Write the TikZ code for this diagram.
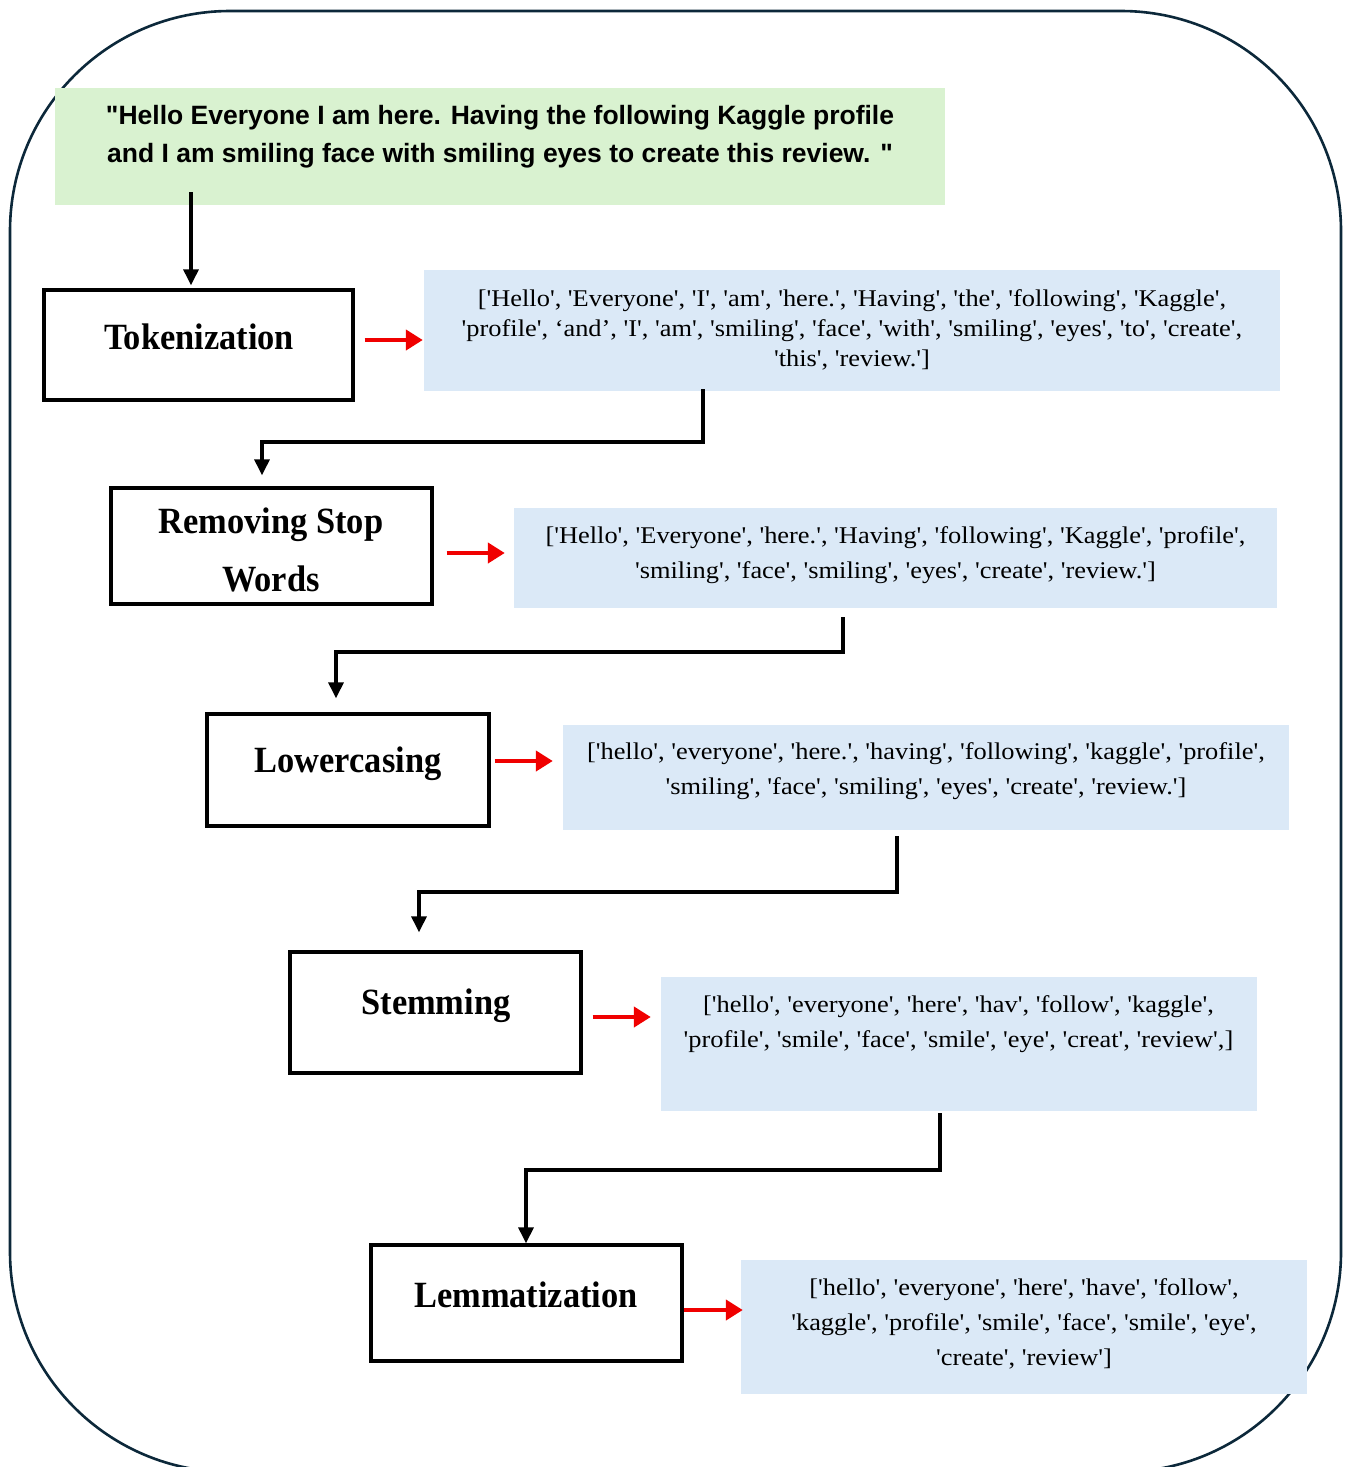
\documentclass[tikz,border=0pt]{standalone}
\usepackage{fontspec}
\usetikzlibrary{arrows.meta,calc}
\newfontfamily\hdrfont[Ligatures=TeXOff]{Liberation Sans}
\newfontfamily\listfont[Ligatures=TeXOff,FakeStretch=1.1]{Liberation Serif}
\newfontfamily\lblfont[Ligatures=TeXOff,FakeStretch=0.93]{Liberation Serif}
\definecolor{framecol}{RGB}{12,40,58}
\definecolor{hdrgreen}{RGB}{217,242,208}
\definecolor{listblue}{RGB}{219,233,247}
\definecolor{arrred}{RGB}{240,0,0}
\begin{document}
\begin{tikzpicture}[x=1pt,y=-1pt,
  stepbox/.style={draw=black,line width=3.3pt,inner sep=0pt,rectangle},
  listbox/.style={fill=listblue,draw=none,inner sep=0pt,rectangle},
  lbl/.style={inner sep=0pt,align=center,font=\lblfont\bfseries\fontsize{37}{58}\selectfont},
  listtxt/.style={inner sep=0pt,align=center,font=\listfont\fontsize{24}{35}\selectfont},
  redarr/.style={draw=arrred,line width=4.2pt,-{Triangle[width=20pt,length=17pt]}},
  blkarr/.style={draw=black,line width=3.2pt,-{Triangle[width=15pt,length=16pt]}},
  blkline/.style={draw=black,line width=3pt}]
\useasboundingbox (0,0) rectangle (1351,1467);
\fill[white] (0,0) rectangle (1351,1467);
% outer frame
\draw[framecol,line width=2.6pt,rounded corners=220pt] (10,11) rectangle (1341,1472);
% header
\node[fill=hdrgreen,inner sep=0pt,minimum width=890pt,minimum height=117pt] (hdr) at (500,146.5) {};
\node[inner sep=0pt,align=center,font=\hdrfont\bfseries\fontsize{26.5}{38}\selectfont] (hdrT) at (500,136.5)
  {"Hello Everyone I am here. Having the following Kaggle profile\\and I am smiling face with smiling eyes to create this review. "};
% step boxes
\node[stepbox,minimum width=309pt,minimum height=110pt] (tok) at (198.5,345) {};
\node[lbl] (tokT) at (199,337) {Tokenization};
\node[stepbox,minimum width=321pt,minimum height=116pt] (stop) at (271.5,546) {};
\node[lbl] (stopT) at (271,550) {Removing Stop\\Words};
\node[stepbox,minimum width=282pt,minimum height=112pt] (lowc) at (348,770) {};
\node[lbl] (lowcT) at (348,764) {Lowercasing};
\node[stepbox,minimum width=291pt,minimum height=121pt] (stem) at (435.5,1012.5) {};
\node[lbl] (stemT) at (436,1006) {Stemming};
\node[stepbox,minimum width=311pt,minimum height=116pt] (lemm) at (526.5,1303) {};
\node[lbl] (lemmT) at (526,1295) {Lemmatization};
% list boxes
\node[listbox,minimum width=856pt,minimum height=121pt] (tokL) at (852,330.5) {};
\node[listtxt,font=\listfont\fontsize{24}{30}\selectfont] (tokLT) at (852,329.5)
  {['Hello', 'Everyone', 'I', 'am', 'here.', 'Having', 'the', 'following', 'Kaggle',\\'profile', ‘and’, 'I', 'am', 'smiling', 'face', 'with', 'smiling', 'eyes', 'to', 'create',\\'this', 'review.']};
\node[listbox,minimum width=763pt,minimum height=100pt] (stopL) at (895.5,558) {};
\node[listtxt] (stopLT) at (895.5,555.5)
  {['Hello', 'Everyone', 'here.', 'Having', 'following', 'Kaggle', 'profile',\\'smiling', 'face', 'smiling', 'eyes', 'create', 'review.']};
\node[listbox,minimum width=726pt,minimum height=105pt] (lowL) at (926,777.5) {};
\node[listtxt] (lowLT) at (926,771.5)
  {['hello', 'everyone', 'here.', 'having', 'following', 'kaggle', 'profile',\\'smiling', 'face', 'smiling', 'eyes', 'create', 'review.']};
\node[listbox,minimum width=596pt,minimum height=134pt] (stemL) at (959,1044) {};
\node[listtxt] (stemLT) at (958.5,1024)
  {['hello', 'everyone', 'here', 'hav', 'follow', 'kaggle',\\'profile', 'smile', 'face', 'smile', 'eye', 'creat', 'review',]};
\node[listbox,minimum width=566pt,minimum height=134pt] (lemL) at (1024,1327) {};
\node[listtxt] (lemLT) at (1024,1324)
  {['hello', 'everyone', 'here', 'have', 'follow',\\'kaggle', 'profile', 'smile', 'face', 'smile', 'eye',\\'create', 'review']};
% red arrows
\path ([xshift=10pt,yshift=5pt]tok.east) coordinate (r1);
\draw[redarr,shorten >=1pt] (r1) -- (r1 -| tokL.west);
\path ([xshift=13pt,yshift=-7pt]stop.east) coordinate (r2);
\draw[redarr,shorten >=9pt] (r2) -- (r2 -| stopL.west);
\path ([xshift=4pt,yshift=9pt]lowc.east) coordinate (r3);
\draw[redarr,shorten >=10pt] (r3) -- (r3 -| lowL.west);
\path ([xshift=10pt,yshift=-4.5pt]stem.east) coordinate (r4);
\draw[redarr,shorten >=10pt] (r4) -- (r4 -| stemL.west);
\path ([yshift=-7pt]lemm.east) coordinate (r5);
\draw[redarr,shorten >=-2pt] (r5) -- (r5 -| lemL.west);
% black connectors
\coordinate (c0) at (191,192);
\draw[blkarr,shorten >=3pt] (c0) -- (c0 |- tok.north);
\coordinate (c1) at (703,389);
\draw[blkarr,shorten >=11pt] (c1) -- (703,442) -| ([xshift=-9.5pt]stop.north);
\coordinate (c2) at (843,617);
\draw[blkarr,shorten >=14pt] (c2) -- (843,652) -| ([xshift=-12pt]lowc.north);
\coordinate (c3) at (897,836);
\draw[blkarr,shorten >=18pt] (c3) -- (897,892) -| ([xshift=-16.5pt]stem.north);
\coordinate (c4) at (940,1113);
\draw[blkarr] (c4) -- (940,1170) -| ([xshift=-0.5pt]lemm.north);
\end{tikzpicture}
\end{document}
